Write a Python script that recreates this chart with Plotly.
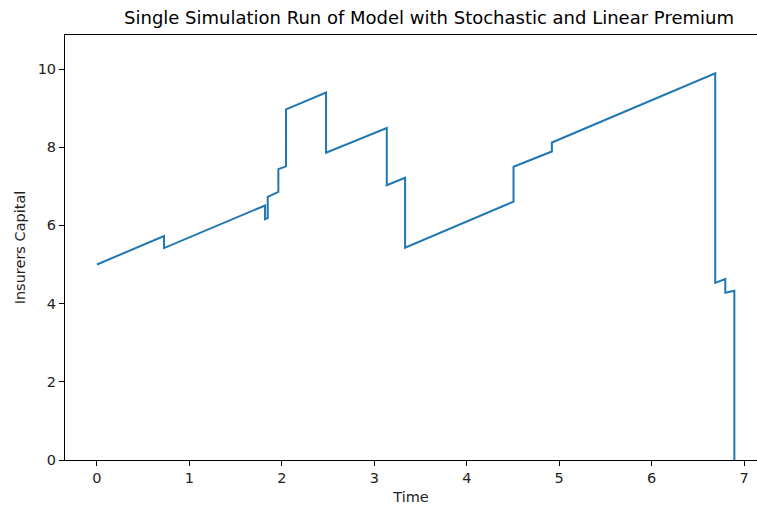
import plotly.graph_objects as go

# Simulated path: times and insurer's capital (jumps repeat the time value)
time = [0.0, 0.725, 0.725, 1.818, 1.818, 1.847, 1.847, 1.962, 1.962, 2.045, 2.045,
        2.478, 2.478, 3.135, 3.135, 3.333, 3.333, 4.506, 4.506, 4.921, 4.921,
        6.688, 6.688, 6.797, 6.797, 6.895, 6.895]
capital = [5.0, 5.73, 5.42, 6.51, 6.16, 6.19, 6.73, 6.86, 7.44, 7.51, 8.97,
           9.40, 7.86, 8.49, 7.03, 7.22, 5.43, 6.61, 7.50, 7.89, 8.12,
           9.89, 4.53, 4.63, 4.28, 4.33, -1.5]

x_ticks = [0, 1, 2, 3, 4, 5, 6, 7]
y_ticks = [0, 2, 4, 6, 8, 10]

fig = go.Figure()
fig.add_trace(go.Scatter(x=time, y=capital, mode="lines",
                         line=dict(color="#1f77b4", width=2), showlegend=False))

font = "DejaVu Sans, Arial, sans-serif"
fig.update_layout(
    width=757, height=510,
    margin=dict(l=65, r=0, t=35, b=50),
    plot_bgcolor="white", paper_bgcolor="white",
    font=dict(family=font, size=14.5, color="#222"),
    title=dict(text="Single Simulation Run of Model with Stochastic and Linear Premium",
               x=429 / 757, xref="container", xanchor="center",
               y=1 - 18 / 510, yref="container", yanchor="middle",
               font=dict(family=font, size=18, color="black")),
    xaxis=dict(range=[-0.346, 7.14], tickvals=x_ticks, ticks="outside", ticklen=5,
               tickwidth=1, tickcolor="black", showline=True, linecolor="black",
               linewidth=1, mirror=True, showgrid=False, zeroline=False,
               title=dict(text="Time", standoff=6, font=dict(size=14.5))),
    yaxis=dict(range=[0, 10.87], tickvals=y_ticks, ticks="outside", ticklen=5,
               tickwidth=1, tickcolor="black", showline=True, linecolor="black",
               linewidth=1, showgrid=False, zeroline=False,
               title=dict(text="Insurers Capital", standoff=8, font=dict(size=14.5))),
)

fig.write_html("out.html")
